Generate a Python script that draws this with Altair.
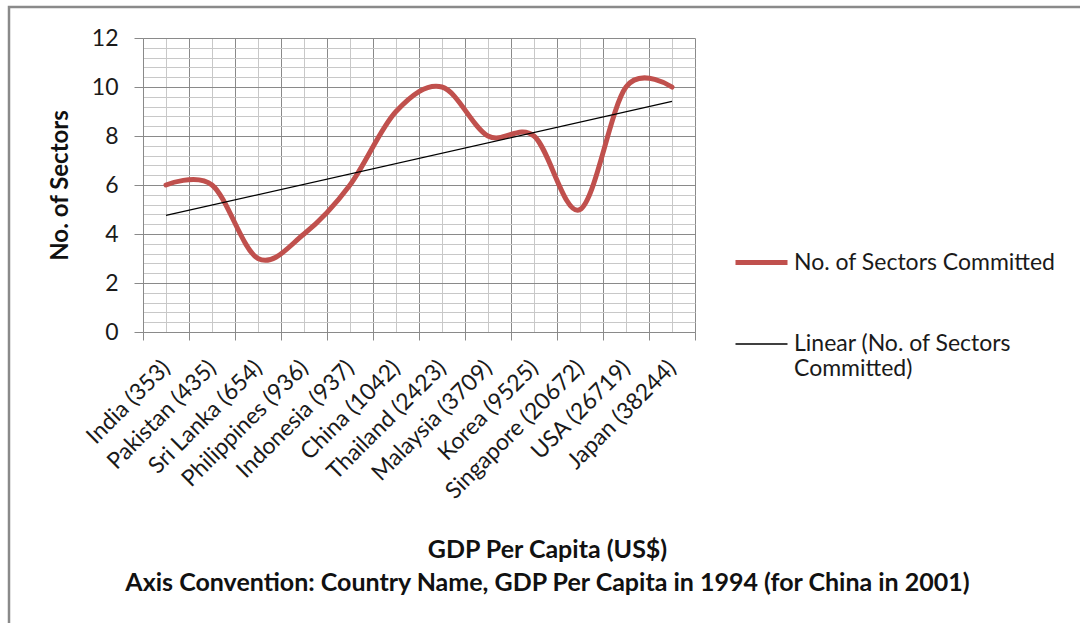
import json

import altair as alt
import pandas as pd

# Countries with GDP per capita (US$) and number of committed sectors
countries = [
    "India (353)", "Pakistan (435)", "Sri Lanka (654)", "Philippines (936)",
    "Indonesia (937)", "China (1042)", "Thailand (2423)", "Malaysia (3709)",
    "Korea (9525)", "Singapore (20672)", "USA (26719)", "Japan (38244)",
]
sectors = [6, 6, 3, 4, 6, 9, 10, 8, 8, 5, 10, 10]

series_name = "No. of Sectors Committed"
trend_name = "Linear (No. of Sectors Committed)"
trend_label_lines = ["Linear (No. of Sectors", "Committed)"]

x_title = [
    "GDP Per Capita (US$)",
    "Axis Convention: Country Name, GDP Per Capita in 1994 (for China in 2001)",
]
y_title = "No. of Sectors"

df = pd.DataFrame({
    "idx": list(range(1, len(countries) + 1)),
    "country": countries,
    "sectors": sectors,
    "series": series_name,
})

FONT = "Lato"
RED = "#C0504D"
MAJOR = "#8a8a8a"
MINOR = "#c8c8c8"

# tick / grid positions: category edges and centres on x, 0.4 steps on y
x_ticks = [i / 2 for i in range(1, 2 * len(countries) + 2)]
y_ticks = [round(i * 0.4, 1) for i in range(31)]

names_js = json.dumps(countries)

x_axis = alt.Axis(
    values=x_ticks,
    labelExpr=f"datum.value % 1 === 0 ? {names_js}[datum.value - 1] : ''",
    labelAngle=-45,
    labelAlign="right",
    labelBaseline="middle",
    labelFont=FONT,
    labelFontSize=23,
    labelColor="#1a1a1a",
    labelPadding=24,
    labelLimit=400,
    labelOverlap=False,
    labelFlush=False,
    labelBound=False,
    tickSize=8,
    tickColor=MAJOR,
    tickOpacity={"condition": {"test": "datum.value % 1 !== 0", "value": 1}, "value": 0},
    grid=True,
    gridColor={"condition": {"test": "datum.value % 1 !== 0", "value": MAJOR}, "value": MINOR},
    gridWidth=1,
    domainColor=MAJOR,
    title=x_title,
    titleFont=FONT,
    titleFontSize=25,
    titleFontWeight="bold",
    titleColor="#111111",
    titleX=404,
    titleY=205,
    titleAlign="center",
    titleBaseline="top",
    titleLineHeight=33,
)

y_axis = alt.Axis(
    values=y_ticks,
    labelExpr="abs(datum.value % 2) < 0.01 ? format(datum.value, 'd') : ''",
    labelFont=FONT,
    labelFontSize=23,
    labelColor="#1a1a1a",
    labelPadding=16,
    labelOverlap=False,
    tickSize=9,
    tickColor=MAJOR,
    tickOpacity={"condition": {"test": "abs(datum.value % 2) < 0.01", "value": 1}, "value": 0},
    grid=True,
    gridColor={"condition": {"test": "abs(datum.value % 2) < 0.01", "value": MAJOR}, "value": MINOR},
    gridWidth=1,
    domainColor=MAJOR,
    title=y_title,
    titleFont=FONT,
    titleFontSize=24,
    titleFontWeight="bold",
    titleColor="#111111",
    titleX=-83,
    titleY=147,
    titleAngle=270,
    titleAlign="center",
    titleBaseline="middle",
)

legend = alt.Legend(
    title=None,
    orient="none",
    legendX=590,
    legendY=196,
    symbolType="stroke",
    symbolSize=2704,
    labelFont=FONT,
    labelFontSize=23,
    labelColor="#1a1a1a",
    labelOffset=4,
    labelLimit=400,
    rowPadding=42,
    labelExpr=(
        f"datum.label === {json.dumps(trend_name)} ? "
        f"{json.dumps(trend_label_lines)} : datum.label"
    ),
)

color = alt.Color(
    "series:N",
    scale=alt.Scale(domain=[series_name, trend_name], range=[RED, "#000000"]),
    legend=legend,
)
width = alt.StrokeWidth(
    "series:N",
    scale=alt.Scale(domain=[series_name, trend_name], range=[5, 1.3]),
    legend=legend,
)

x_enc = alt.X("idx:Q", scale=alt.Scale(domain=[0.5, len(countries) + 0.5], nice=False, zero=False), axis=x_axis)
y_enc = alt.Y("sectors:Q", scale=alt.Scale(domain=[0, 12], nice=False), axis=y_axis)

sector_line = alt.Chart(df).mark_line(interpolate="cardinal", strokeCap="round").encode(
    x=x_enc, y=y_enc, color=color, strokeWidth=width,
)

trend_line = (
    alt.Chart(df)
    .transform_regression("idx", "sectors")
    .transform_calculate(series=json.dumps(trend_name))
    .mark_line()
    .encode(x=x_enc, y=y_enc, color=color, strokeWidth=width)
)

# outer frame of the chart area
frame = alt.Chart(pd.DataFrame({"f": [0]})).mark_rect(
    filled=False, stroke="#8a8a8a", strokeWidth=2.5
).encode(
    x=alt.value(-134), x2=alt.value(1000), y=alt.value(-31), y2=alt.value(700)
)

chart = (
    alt.layer(frame, sector_line, trend_line)
    .properties(
        width=552,
        height=294,
        autosize=alt.AutoSizeParams(type="none"),
        padding={"left": 143, "top": 38, "right": 385, "bottom": 291},
        background="white",
    )
    .configure_view(strokeWidth=0)
)

chart.save("out.html", embed_options={"renderer": "svg", "actions": False})
